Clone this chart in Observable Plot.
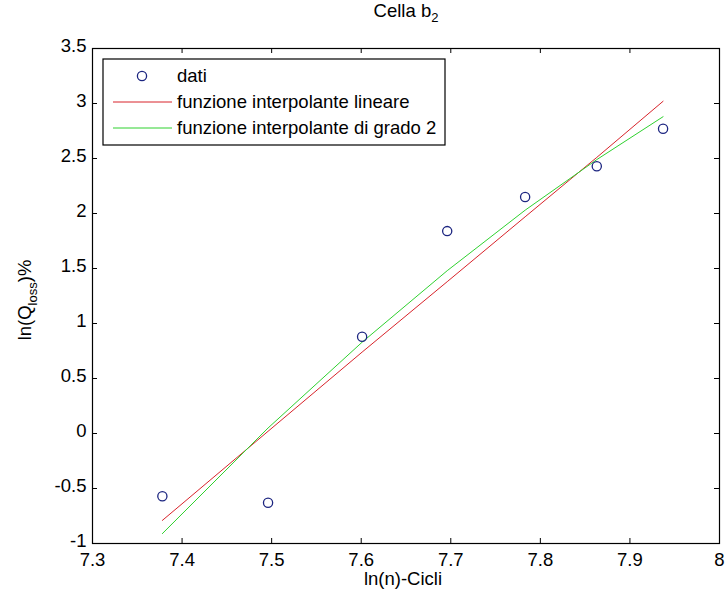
<!DOCTYPE html>
<html>
<head>
<meta charset="utf-8">
<script src="https://cdn.jsdelivr.net/npm/d3@7"></script>
<script src="https://cdn.jsdelivr.net/npm/@observablehq/plot@0.6"></script>
<style>
  html, body { margin: 0; padding: 0; background: #fff; }
  #chart { position: relative; width: 725px; height: 598px; }
</style>
</head>
<body>
<div id="chart"></div>
<script>
// Cycle counts on a log scale, ln(n), and the measured capacity loss ln(Q_loss)%
const lnCycles = [7.378, 7.496, 7.601, 7.696, 7.783, 7.863, 7.937];
const lnQloss  = [-0.57, -0.63, 0.88, 1.84, 2.15, 2.43, 2.77];

// Fitted curves evaluated at the same abscissae
const linearFit    = [-0.79, 0.02, 0.74, 1.38, 1.97, 2.51, 3.02];
const quadraticFit = [-0.91, 0.05, 0.83, 1.48, 2.03, 2.49, 2.88];

const xTicks = [7.3, 7.4, 7.5, 7.6, 7.7, 7.8, 7.9, 8];
const yTicks = [-1, -0.5, 0, 0.5, 1, 1.5, 2, 2.5, 3, 3.5];

const legendLabels = ["dati", "funzione interpolante lineare", "funzione interpolante di grado 2"];

const points = lnCycles.map((x, i) => ({x, y: lnQloss[i]}));
const linRows = lnCycles.map((x, i) => ({x, y: linearFit[i]}));
const quadRows = lnCycles.map((x, i) => ({x, y: quadraticFit[i]}));

const RED = "#d8232a";
const GREEN = "#2fd12f";
const BLUE = "#1c2580";
const FONT = "'Liberation Sans', Arial, Helvetica, sans-serif";

const W = 725, H = 598;
const M = {top: 48, right: 6, bottom: 55, left: 92};
const innerW = W - M.left - M.right;
const innerH = H - M.top - M.bottom;
const TICK = 5; // inward tick length

const chart = Plot.plot({
  width: W,
  height: H,
  marginLeft: M.left,
  marginRight: M.right,
  marginTop: M.top,
  marginBottom: M.bottom,
  style: {fontFamily: FONT, fontSize: "18.5px", color: "#000", background: "#fff"},
  x: {domain: [7.3, 8], label: null},
  y: {domain: [-1, 3.5], label: null},
  marks: [
    Plot.line(linRows, {x: "x", y: "y", stroke: RED, strokeWidth: 1}),
    Plot.line(quadRows, {x: "x", y: "y", stroke: GREEN, strokeWidth: 1}),
    Plot.dot(points, {x: "x", y: "y", r: 4.6, stroke: BLUE, strokeWidth: 1.3, fill: "none"}),
    // inward ticks on all four sides of the box
    Plot.tickX(xTicks, {x: d => d, insetTop: innerH - TICK, stroke: "#000"}),
    Plot.tickX(xTicks, {x: d => d, insetBottom: innerH - TICK, stroke: "#000"}),
    Plot.tickY(yTicks, {y: d => d, insetRight: innerW - TICK, stroke: "#000"}),
    Plot.tickY(yTicks, {y: d => d, insetLeft: innerW - TICK, stroke: "#000"}),
    Plot.frame({stroke: "#000", strokeWidth: 1.2}),
    Plot.axisX(xTicks, {anchor: "bottom", tickSize: 0, tickPadding: 9, label: null,
      tickFormat: d => String(d), fontSize: 18.5, fontVariant: "normal"}),
    Plot.axisY(yTicks, {anchor: "left", tickSize: 0, tickPadding: 6, dy: -2, label: null,
      tickFormat: d => String(d), fontSize: 18.5, fontVariant: "normal"})
  ]
});

document.getElementById("chart").appendChild(chart);

// Title, axis labels (with subscripts) and the legend box
const svg = d3.select(chart);
const addText = (x, y, attrs = {}) => svg.append("text")
  .attr("x", x).attr("y", y)
  .attr("font-family", FONT).attr("font-size", 18.5).attr("fill", "#000")
  .attr("text-anchor", "start")
  .call(t => Object.entries(attrs).forEach(([k, v]) => t.attr(k, v)));

const title = addText(406, 17, {"text-anchor": "middle"});
title.append("tspan").text("Cella b");
title.append("tspan").attr("font-size", 13).attr("dy", 5).text("2");

addText(403, 585, {"text-anchor": "middle"}).text("ln(n)-Cicli");

const yl = addText(0, 0, {"text-anchor": "middle", transform: "translate(31,300) rotate(-90)"});
yl.append("tspan").text("ln(Q");
yl.append("tspan").attr("font-size", 13).attr("dy", 6).text("loss");
yl.append("tspan").attr("dy", -6).text(")%");

const lg = svg.append("g");
lg.append("rect").attr("x", 103).attr("y", 59).attr("width", 342).attr("height", 86)
  .attr("fill", "#fff").attr("stroke", "#000").attr("stroke-width", 1.2);
lg.append("circle").attr("cx", 142).attr("cy", 76).attr("r", 4.6)
  .attr("fill", "none").attr("stroke", BLUE).attr("stroke-width", 1.3);
lg.append("line").attr("x1", 113).attr("x2", 172).attr("y1", 102).attr("y2", 102)
  .attr("stroke", RED).attr("stroke-width", 1);
lg.append("line").attr("x1", 113).attr("x2", 172).attr("y1", 128).attr("y2", 128)
  .attr("stroke", GREEN).attr("stroke-width", 1);
legendLabels.forEach((label, i) => {
  addText(177, [76, 102, 128][i], {dy: "0.35em"}).text(label);
});
</script>
</body>
</html>
